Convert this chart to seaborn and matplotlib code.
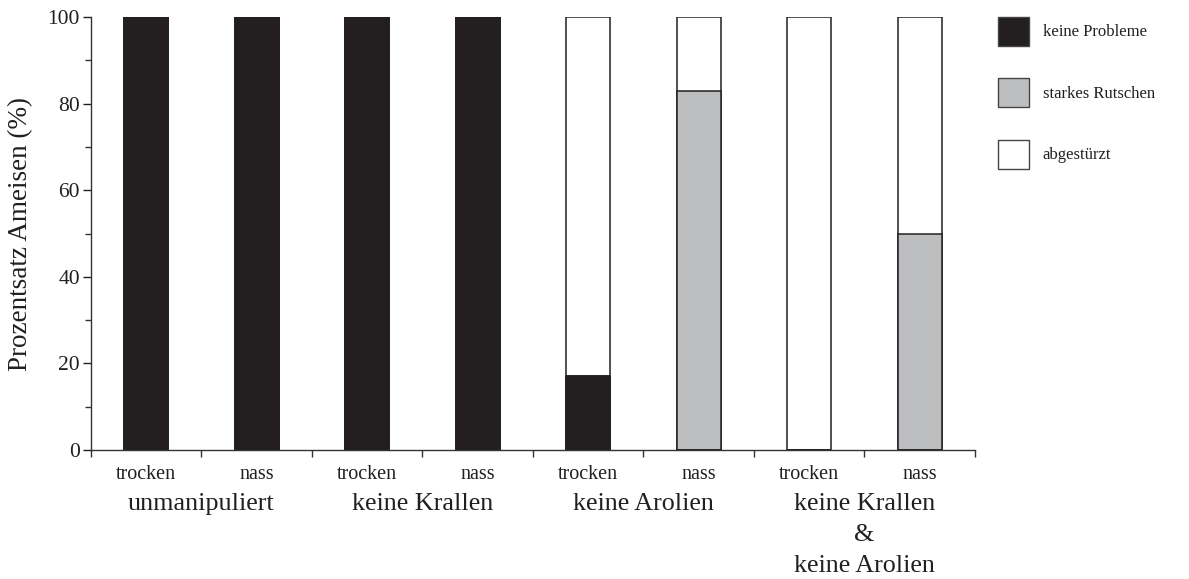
import matplotlib
matplotlib.use("Agg")
import matplotlib.pyplot as plt
import matplotlib.transforms as mtransforms
from matplotlib.patches import Patch
import seaborn as sns
import pandas as pd

# Conditions (one bar each) and group labels
conditions = ["trocken", "nass", "trocken", "nass", "trocken", "nass", "trocken", "nass"]
groups = ["unmanipuliert", "keine Krallen", "keine Arolien", "keine Krallen\n&\nkeine Arolien"]

# Percentages per outcome
keine_probleme = [100, 100, 100, 100, 17, 0, 0, 0]
starkes_rutschen = [0, 0, 0, 0, 0, 83, 0, 50]
abgestuerzt = [0, 0, 0, 0, 83, 17, 100, 50]

outcome_labels = ["keine Probleme", "starkes Rutschen", "abgestürzt"]
colors = ["#231f20", "#bcbec0", "#ffffff"]
edge = "#231f20"
text_color = "#231f20"

sns.set_style("ticks")
plt.rcParams["font.family"] = ["Liberation Serif", "DejaVu Serif"]

keys = [f"{i}" for i in range(len(conditions))]
df = pd.DataFrame({
    "key": keys,
    "p1": keine_probleme,
    "p2": [a + b for a, b in zip(keine_probleme, starkes_rutschen)],
    "p3": [a + b + c for a, b, c in zip(keine_probleme, starkes_rutschen, abgestuerzt)],
})

fig = plt.figure(figsize=(11.89, 5.79), dpi=100)
ax = fig.add_axes([0.0765, 0.2228, 0.7435, 0.7478])

# Stacks drawn back to front: cumulative totals overlaid
for col, c in zip(["p3", "p2", "p1"], colors[::-1]):
    sns.barplot(data=df, x="key", y=col, order=keys, color=c, width=0.40,
                edgecolor=edge, linewidth=1.1, saturation=1, ax=ax)

ax.set_xlim(-0.5, len(conditions) - 0.5)
ax.set_ylim(0, 100)
ax.set_yticks([0, 20, 40, 60, 80, 100])
ax.set_yticks([10, 30, 50, 70, 90], minor=True)
ax.set_xticks([i - 0.5 for i in range(len(conditions) + 1)])
ax.set_xticklabels([])
ax.set_xticks(range(len(conditions)), minor=True)
ax.set_xticklabels(conditions, minor=True)
ax.tick_params(axis="x", which="minor", length=0, pad=11, labelsize=14.5, colors=text_color)
ax.tick_params(axis="x", which="major", length=5, width=1, color="#333333")
ax.tick_params(axis="y", which="major", length=6, width=1, labelsize=15.5, colors=text_color, pad=2)
ax.tick_params(axis="y", which="minor", length=4, width=1, color="#333333")
ax.set_xlabel("")
ax.set_ylabel("Prozentsatz Ameisen (%)", fontsize=19.5, color=text_color, labelpad=10)
sns.despine(ax=ax)
for s in ["left", "bottom"]:
    ax.spines[s].set_color("#333333")
    ax.spines[s].set_linewidth(1)

trans = mtransforms.blended_transform_factory(ax.transData, ax.transAxes)
for gi, g in enumerate(groups):
    ax.text(2 * gi + 0.5, -0.1, g, transform=trans, ha="center", va="top",
            fontsize=18.8, color=text_color, linespacing=1.52)

handles = [Patch(facecolor=c, edgecolor="#444444", linewidth=1) for c in colors]
fig.legend(handles, outcome_labels, loc="upper left", bbox_to_anchor=(0.8335, 0.983),
           frameon=False, fontsize=12, handlelength=1.85, handleheight=2.3,
           labelspacing=1.95, handletextpad=0.85, borderaxespad=0, labelcolor=text_color)

fig.savefig("out.png", dpi=100)
